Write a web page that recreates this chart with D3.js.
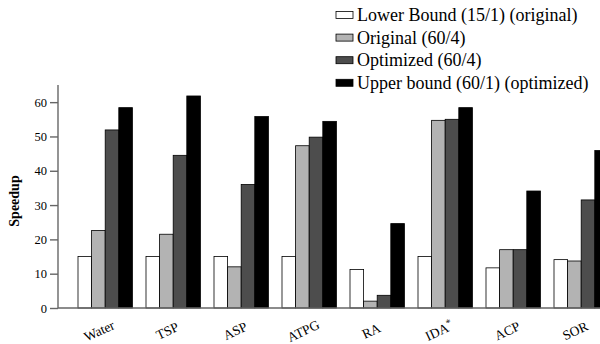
<!DOCTYPE html>
<html>
<head>
<meta charset="utf-8">
<script src="https://cdn.jsdelivr.net/npm/d3@7"></script>
<style>
body { margin: 0; background: #fff; }
</style>
</head>
<body>
<script>
var benchmarks = ["Water", "TSP", "ASP", "ATPG", "RA", "IDA*", "ACP", "SOR"];
var seriesNames = ["Lower Bound (15/1) (original)", "Original (60/4)", "Optimized (60/4)", "Upper bound (60/1) (optimized)"];
var lowerBound = [15, 15, 15, 15, 11.2, 15, 11.7, 14.1];
var original   = [22.6, 21.5, 12, 47.3, 2, 54.7, 17, 13.7];
var optimized  = [51.9, 44.5, 36, 49.8, 3.7, 55, 17, 31.5];
var upperBound = [58.4, 61.8, 55.8, 54.4, 24.6, 58.4, 34.1, 45.9];
var yTicks = [0, 10, 20, 30, 40, 50, 60];
var colors = ["#ffffff", "#b3b3b3", "#4d4d4d", "#000000"];

var series = [lowerBound, original, optimized, upperBound];
var serif = "'Liberation Serif', 'Times New Roman', Times, serif";

var width = 600, height = 344;

var svg = d3.select("body").append("svg")
	.attr("width", width)
	.attr("height", height)
	.attr("font-family", serif);

var x = d3.scaleBand()
	.domain(benchmarks)
	.range([71.2, 71.2 + 8 * 68])
	.paddingInner(0.2)
	.paddingOuter(0.1);

var xs = d3.scaleBand()
	.domain(d3.range(4))
	.range([0, x.bandwidth()]);

var y = d3.scaleLinear()
	.domain([0, 65])
	.range([308, 85]);

// bars
var groups = svg.selectAll("g.group")
	.data(benchmarks)
	.enter().append("g")
	.attr("class", "group")
	.attr("transform", function(d) { return "translate(" + x(d) + ",0)"; });

groups.selectAll("rect")
	.data(function(d, i) { return series.map(function(s, j) { return {k: j, v: s[i]}; }); })
	.enter().append("rect")
	.attr("x", function(d) { return xs(d.k); })
	.attr("y", function(d) { return y(d.v); })
	.attr("width", xs.bandwidth())
	.attr("height", function(d) { return y(0) - y(d.v); })
	.style("fill", function(d) { return colors[d.k]; })
	.style("stroke", "#000")
	.style("stroke-width", 0.8);

// y axis
var yAxis = svg.append("g")
	.attr("transform", "translate(58,0)")
	.call(d3.axisLeft(y).tickValues(yTicks).tickSize(8).tickPadding(3));
yAxis.attr("font-family", serif).attr("font-size", 12.5);
yAxis.select(".domain").attr("d", "M0," + y(65) + "V" + y(0));
yAxis.selectAll("line, .domain").style("stroke", "#666").style("stroke-width", 1.4);
yAxis.selectAll("text").style("fill", "#000");

// x axis line
svg.append("line")
	.attr("x1", 58).attr("x2", width)
	.attr("y1", y(0)).attr("y2", y(0))
	.style("stroke", "#666").style("stroke-width", 1.4);

// x labels
var labels = svg.selectAll("text.xlab")
	.data(benchmarks)
	.enter().append("text")
	.attr("class", "xlab")
	.attr("text-anchor", "middle")
	.attr("transform", function(d) { return "translate(" + (x(d) + x.bandwidth() / 2 - 4) + ",335) rotate(-25)"; })
	.attr("font-size", 13.5);
labels.each(function(d) {
	var t = d3.select(this);
	if (d.slice(-1) === "*") {
		t.append("tspan").text(d.slice(0, -1));
		t.append("tspan").attr("dy", -5).attr("font-size", 10).text("*");
	} else {
		t.text(d);
	}
});

// y label
svg.append("text")
	.attr("transform", "translate(19,201) rotate(-90)")
	.attr("text-anchor", "middle")
	.attr("font-size", 14)
	.attr("font-weight", "bold")
	.text("Speedup");

// legend
var legend = svg.selectAll("g.legend")
	.data(seriesNames)
	.enter().append("g")
	.attr("class", "legend")
	.attr("transform", function(d, i) { return "translate(336," + (15 + i * 22.6) + ")"; });

legend.append("rect")
	.attr("x", 0).attr("y", -3.5)
	.attr("width", 17).attr("height", 7)
	.style("fill", function(d, i) { return colors[i]; })
	.style("stroke", "#000")
	.style("stroke-width", 0.8);

legend.append("text")
	.attr("x", 21)
	.attr("y", 6)
	.attr("font-size", 18)
	.text(function(d) { return d; });
</script>
</body>
</html>
